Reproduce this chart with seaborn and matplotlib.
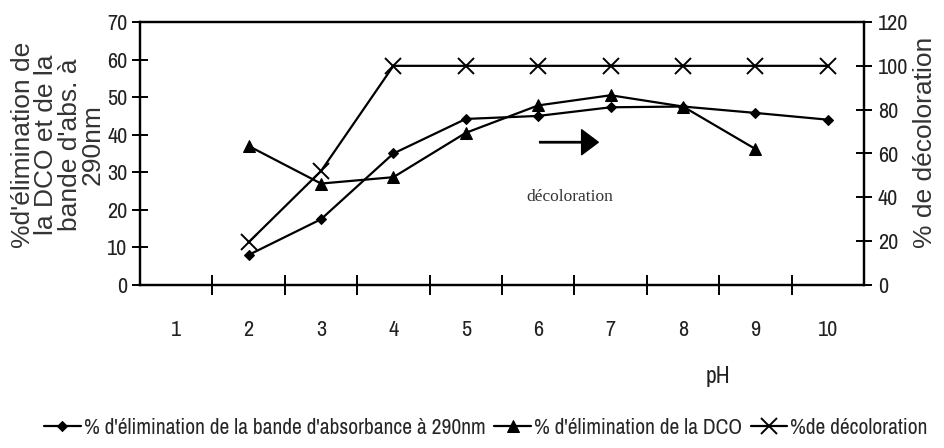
import matplotlib
matplotlib.use("Agg")
import matplotlib.pyplot as plt
import seaborn as sns
from matplotlib.ticker import FixedLocator

sns.set_style("white")
plt.rcParams['font.family'] = ['Liberation Sans', 'DejaVu Sans']
NARROW = ['Archivo Narrow', 'Liberation Sans', 'DejaVu Sans']

# pH categories shown on the x axis
ph_labels = ["1", "2", "3", "4", "5", "6", "7", "8", "9", "10"]

# % removal of the 290 nm absorbance band (left axis)
ph_abs = [2, 3, 4, 5, 6, 7, 8, 9, 10]
abs_removal = [8.0, 17.5, 35.0, 44.2, 45.0, 47.3, 47.5, 45.8, 44.0]

# % COD (DCO) removal (left axis)
ph_dco = [2, 3, 4, 5, 6, 7, 8, 9]
dco_removal = [37.0, 27.0, 28.7, 40.5, 47.8, 50.5, 47.5, 36.2]

# % decolorization (right axis)
ph_dec = [2, 3, 4, 5, 6, 7, 8, 9, 10]
decolor = [19.5, 52.0, 100, 100, 100, 100, 100, 100, 100]

lbl_abs = "% d'élimination de la bande d'absorbance à 290nm"
lbl_dco = "% d'élimination de la DCO"
lbl_dec = "%de décoloration"

fig = plt.figure(figsize=(9.44, 4.48), dpi=100)
ax = fig.add_axes([140 / 944, 1 - 285 / 448, (864 - 140) / 944, (285 - 22) / 448])
ax2 = ax.twinx()

sns.lineplot(x=ph_abs, y=abs_removal, ax=ax, color="black", lw=1.6,
             marker="D", markersize=5, markeredgecolor="black", legend=False)
sns.lineplot(x=ph_dco, y=dco_removal, ax=ax, color="black", lw=1.6,
             marker="^", markersize=8, markeredgecolor="black", legend=False)
sns.lineplot(x=ph_dec, y=decolor, ax=ax2, color="black", lw=1.6,
             marker="x", markersize=12, markeredgewidth=1.4,
             markeredgecolor="black", legend=False)

ax.set_xlim(0.5, 10.5)
ax.set_ylim(0, 70)
ax2.set_ylim(0, 120)
ax.set_yticks(range(0, 71, 10))
ax2.set_yticks(range(0, 121, 20))
ax.set_xticks(range(1, 11))
ax.set_xticklabels(ph_labels)
ax.xaxis.set_minor_locator(FixedLocator([i + 0.5 for i in range(1, 10)]))

for a in (ax, ax2):
    for s in a.spines.values():
        s.set_color("black")
        s.set_linewidth(1.6)

ax.tick_params(axis="x", which="major", length=0, pad=25)
ax.tick_params(axis="x", which="minor", bottom=True, direction="inout",
               length=14, width=1.4, color="black")
ax.tick_params(axis="y", which="major", left=True, direction="inout",
               length=12, width=1.4, color="black", pad=3)
ax2.tick_params(axis="y", which="major", right=True, direction="inout",
                length=12, width=1.4, color="black", pad=4)
for t in ax.get_yticklabels() + ax2.get_yticklabels() + ax.get_xticklabels():
    t.set_color("#222222")
    t.set_family(NARROW)
    t.set_fontsize(16)

ax.set_xlabel("")
ax.set_ylabel("")
ax2.set_ylabel("")

# arrow pointing toward the decolorization axis
ax.annotate("", xy=(6.83, 38.0), xytext=(6.02, 38.0),
            arrowprops=dict(facecolor="black", edgecolor="black",
                            width=1.0, headwidth=18, headlength=12, shrink=0))
ax.text(6.43, 23.4, "décoloration", family=["Liberation Serif", "DejaVu Serif"],
        fontsize=12.5, color="#333333", ha="center", va="center")

fig.text(718 / 944, 1 - 376 / 448, "pH", fontsize=17, color="#222222",
         family=NARROW, ha="center", va="center")
fig.text(58 / 944, 1 - 145 / 448,
         "%d'élimination de\nla DCO et de la\nbande d'abs. à\n290nm",
         rotation=90, ha="center", va="center", multialignment="center",
         fontsize=19, color="#333333", linespacing=0.95)
fig.text(925 / 944, 1 - 142 / 448, "% de décoloration", rotation=90,
         ha="center", va="center", fontsize=19, color="#333333")

handles = ax.get_lines()[:2] + ax2.get_lines()[:1]
fig.legend(handles, [lbl_abs, lbl_dco, lbl_dec], loc="center",
           bbox_to_anchor=(486 / 944, 1 - 428 / 448), ncol=3, frameon=False,
           handlelength=1.7, handletextpad=0.15, columnspacing=0.4,
           prop={"family": NARROW, "size": 15.5})

fig.savefig("out.png", dpi=100)
